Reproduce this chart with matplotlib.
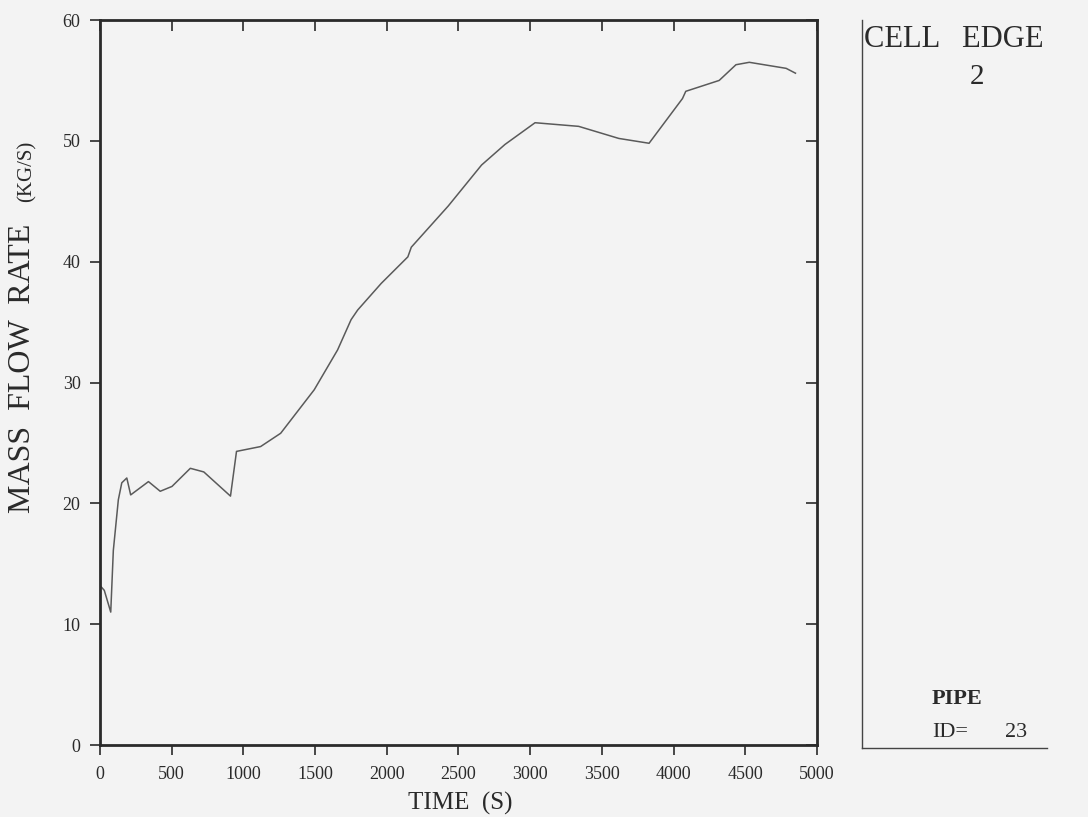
import numpy as np
import matplotlib
matplotlib.use("Agg")
import matplotlib.pyplot as plt

# values
time_s = [0, 30, 75, 93, 128, 152, 187, 214, 338, 420, 502, 630, 724, 910, 952,
          1120, 1260, 1494, 1657, 1751, 1797, 1961, 2147, 2171, 2428, 2661, 2824,
          3034, 3338, 3618, 3829, 4062, 4085, 4318, 4435, 4528, 4785, 4850]
mass_flow = [13.2, 12.8, 11.0, 16.1, 20.3, 21.7, 22.1, 20.7, 21.8, 21.0, 21.4, 22.9,
             22.6, 20.6, 24.3, 24.7, 25.8, 29.4, 32.7, 35.2, 36.0, 38.2, 40.4, 41.2,
             44.6, 48.0, 49.7, 51.5, 51.2, 50.2, 49.8, 53.5, 54.1, 55.0, 56.3, 56.5,
             56.0, 55.6]
x_ticks = [0, 500, 1000, 1500, 2000, 2500, 3000, 3500, 4000, 4500, 5000]
y_ticks = [0, 10, 20, 30, 40, 50, 60]

plt.rcParams['font.family'] = ['Liberation Serif', 'DejaVu Serif']
bg = "#f3f3f3"
ink = "#2a2a2a"

fig = plt.figure(figsize=(10.88, 8.17), dpi=100, facecolor=bg)

ax = fig.add_axes([0.0919, 0.0881, 0.659, 0.8874], facecolor=bg)
ax.plot(time_s, mass_flow, color="#5a5a5a", linewidth=1.1)
ax.set_xlim(0, 5000)
ax.set_ylim(0, 60)
ax.set_xticks(x_ticks)
ax.set_yticks(y_ticks)
ax.tick_params(axis="both", labelsize=13, colors=ink, length=7, width=1.2,
               direction="out")
ax.tick_params(axis="x", pad=8)
ax.tick_params(axis="y", pad=7)
for s in ax.spines.values():
    s.set_linewidth(2.0)
    s.set_color(ink)

# inward ticks on top and right
top = ax.secondary_xaxis("top")
top.set_xticks(x_ticks)
top.tick_params(direction="in", length=8, width=1.2, labeltop=False, colors=ink)
right = ax.secondary_yaxis("right")
right.set_yticks(y_ticks)
right.tick_params(direction="in", length=8, width=1.2, labelright=False, colors=ink)

fig.text(0.423, 0.016, "TIME  (S)", fontsize=18, color=ink, ha="center", va="center")
fig.text(0.021, 0.549, "MASS  FLOW  RATE", rotation=90, fontsize=23, color=ink,
         ha="center", va="center")
fig.text(0.025, 0.790, "(KG/S)", rotation=90, fontsize=15, color=ink,
         ha="center", va="center")

# side panel
ax2 = fig.add_axes([0.7923, 0.0845, 0.170, 0.891], facecolor=bg)
ax2.set_xticks([])
ax2.set_yticks([])
ax2.spines["top"].set_visible(False)
ax2.spines["right"].set_visible(False)
for side in ["left", "bottom"]:
    ax2.spines[side].set_linewidth(1.0)
    ax2.spines[side].set_color("#444444")
ax2.text(0.01, 0.993, "CELL   EDGE", transform=ax2.transAxes, fontsize=22,
         ha="left", va="top", color=ink)
ax2.text(0.62, 0.94, "2", transform=ax2.transAxes, fontsize=21,
         ha="center", va="top", color=ink)
ax2.text(0.378, 0.067, "PIPE", transform=ax2.transAxes, fontsize=16,
         fontweight="bold", ha="left", va="center", color=ink)
ax2.text(0.378, 0.021, "ID=", transform=ax2.transAxes, fontsize=16,
         ha="left", va="center", color=ink)
ax2.text(0.773, 0.021, "23", transform=ax2.transAxes, fontsize=16,
         ha="left", va="center", color=ink)

fig.savefig("out.png", dpi=100, facecolor=bg)
